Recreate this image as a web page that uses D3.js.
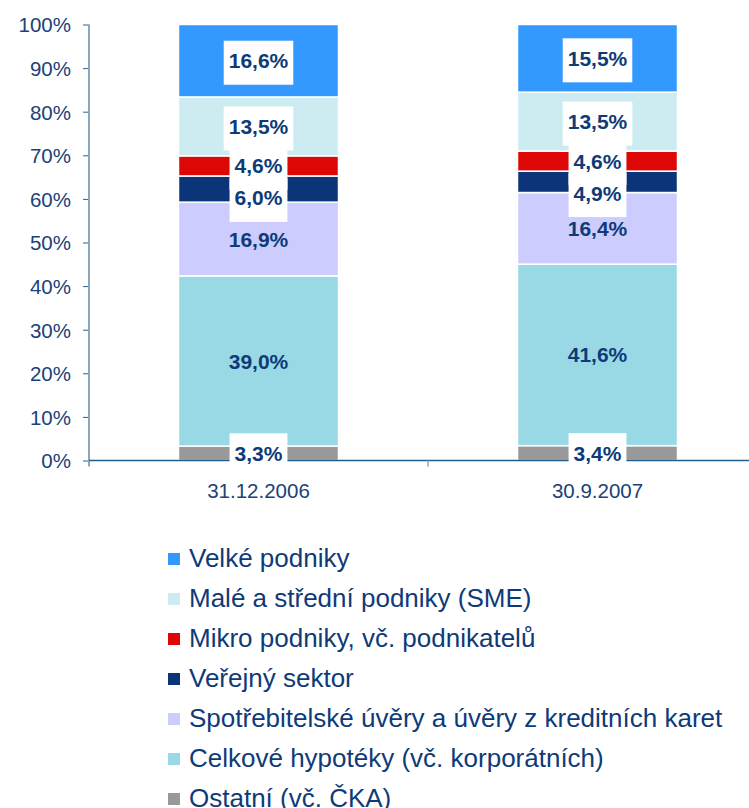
<!DOCTYPE html>
<html>
<head>
<meta charset="utf-8">
<script src="https://cdn.jsdelivr.net/npm/d3@7"></script>
<style>
  body { margin: 0; background: #fff; }
  svg { display: block; font-family: "Liberation Sans", Arial, sans-serif; }
</style>
</head>
<body>
<div id="chart"></div>
<script>
// 100% stacked columns - loan portfolio structure

const categories = ['31.12.2006', '30.9.2007'];
// bottom to top
const seriesNames = [
    'Ostatní (vč. ČKA)',
    'Celkové hypotéky (vč. korporátních)',
    'Spotřebitelské úvěry a úvěry z kreditních karet',
    'Veřejný sektor',
    'Mikro podniky, vč. podnikatelů',
    'Malé a střední podniky (SME)',
    'Velké podniky'
];
const values2006 = [3.3, 39.0, 16.9, 6.0, 4.6, 13.5, 16.6];
const values2007 = [3.4, 41.6, 16.4, 4.9, 4.6, 13.5, 15.5];
const yTicks = [0, 0.1, 0.2, 0.3, 0.4, 0.5, 0.6, 0.7, 0.8, 0.9, 1];

const COLORS = {
    'Ostatní (vč. ČKA)': '#999999',
    'Celkové hypotéky (vč. korporátních)': '#99D9E6',
    'Spotřebitelské úvěry a úvěry z kreditních karet': '#CCCCFF',
    'Veřejný sektor': '#0B3578',
    'Mikro podniky, vč. podnikatelů': '#DD0806',
    'Malé a střední podniky (SME)': '#CCECF2',
    'Velké podniky': '#3399FF'
};
// labels drawn on a white box
const BOXED = new Set([
    'Ostatní (vč. ČKA)', 'Veřejný sektor', 'Mikro podniky, vč. podnikatelů',
    'Malé a střední podniky (SME)', 'Velké podniky'
]);
const TEXT_COLOR = '#0E3B78';

const W = 749, H = 808;
const svg = d3.select('#chart').append('svg').attr('width', W).attr('height', H);

const rows = categories.map((c, i) => {
    const vals = [values2006, values2007][i];
    const row = { category: c };
    seriesNames.forEach((s, j) => { row[s] = vals[j]; });
    return row;
});

const stack = d3.stack().keys(seriesNames).offset(d3.stackOffsetExpand);
const layers = stack(rows);

const x = d3.scaleBand().domain(categories).range([89, 767]).paddingInner(0.528).paddingOuter(0.264);
const y = d3.scaleLinear().domain([0, 1]).range([460.5, 24.5]);
const step = x.step();

// bars
const layerG = svg.append('g').selectAll('g.layer').data(layers).enter().append('g')
    .attr('class', 'layer')
    .attr('fill', d => COLORS[d.key]);

layerG.selectAll('rect').data(d => d).enter().append('rect')
    .attr('x', d => x(d.data.category))
    .attr('width', x.bandwidth())
    .attr('y', d => y(d[1]))
    .attr('height', d => y(d[0]) - y(d[1]))
    .attr('stroke', '#fff')
    .attr('stroke-width', 1.5);

// y axis
const yAxis = svg.append('g')
    .attr('transform', 'translate(89,0)')
    .call(d3.axisLeft(y).tickValues(yTicks).tickFormat(d3.format('.0%')).tickSize(6).tickPadding(12));
yAxis.select('.domain').remove();
yAxis.selectAll('.tick line').attr('stroke', '#2A6494');
yAxis.selectAll('.tick text')
    .attr('fill', '#1B4279')
    .style('font-size', '20.5px')
    .attr('dy', '0.36em');
svg.append('line')
    .attr('x1', 89).attr('x2', 89)
    .attr('y1', y(1)).attr('y2', y(0) + 6)
    .attr('stroke', '#8AA8C0').attr('stroke-width', 2);

// x axis with category boundary ticks
svg.append('line')
    .attr('x1', 89).attr('x2', W)
    .attr('y1', y(0)).attr('y2', y(0))
    .attr('stroke', '#1F5F8F').attr('stroke-width', 1.5);
svg.append('g').selectAll('line').data(categories.map((c, i) => 89 + (i + 1) * step)).enter().append('line')
    .attr('x1', d => d).attr('x2', d => d)
    .attr('y1', y(0)).attr('y2', y(0) + 6)
    .attr('stroke', '#8AA8C0').attr('stroke-width', 1.5);

const xAxis = svg.append('g')
    .attr('transform', `translate(0,${y(0)})`)
    .call(d3.axisBottom(x).tickSize(0).tickPadding(23));
xAxis.select('.domain').remove();
xAxis.selectAll('.tick text')
    .attr('fill', '#1B4279')
    .style('font-size', '20.5px');

// value labels, spread apart where segments are thin
const labels = [];
categories.forEach((c, ci) => {
    const items = layers.map(l => ({
        key: l.key,
        value: rows[ci][l.key],
        cx: x(c) + x.bandwidth() / 2,
        cy: (y(l[ci][0]) + y(l[ci][1])) / 2
    })).reverse();
    for (let i = 1; i < items.length; i++) {
        if (items[i].cy - items[i - 1].cy < 32) items[i].cy = items[i - 1].cy + 32;
    }
    labels.push(...items);
});

const fmt = v => d3.format('.1f')(v).replace('.', ',') + '%';
const labelG = svg.append('g');
const boxG = labelG.append('g');
const textG = labelG.append('g');

const texts = textG.selectAll('text').data(labels).enter().append('text')
    .attr('x', d => d.cx)
    .attr('y', d => d.cy)
    .attr('dy', '0.36em')
    .attr('text-anchor', 'middle')
    .attr('fill', TEXT_COLOR)
    .style('font-size', '21px')
    .style('font-weight', 'bold')
    .text(d => fmt(d.value));

texts.each(function (d) {
    if (!BOXED.has(d.key)) return;
    const w = this.getComputedTextLength() + 10;
    boxG.append('rect')
        .attr('x', d.cx - w / 2)
        .attr('y', d.cy - 20)
        .attr('width', w)
        .attr('height', 44)
        .attr('fill', '#fff');
});

// legend, top series first
const legend = svg.append('g').attr('transform', 'translate(168,553)');
const legendItems = legend.selectAll('g').data(seriesNames.slice().reverse()).enter().append('g')
    .attr('transform', (d, i) => `translate(0,${i * 40})`);
legendItems.append('rect')
    .attr('width', 12).attr('height', 12)
    .attr('fill', d => COLORS[d]);
legendItems.append('text')
    .attr('x', 21).attr('y', 14)
    .attr('fill', TEXT_COLOR)
    .style('font-size', '26px')
    .text(d => d);
</script>
</body>
</html>
